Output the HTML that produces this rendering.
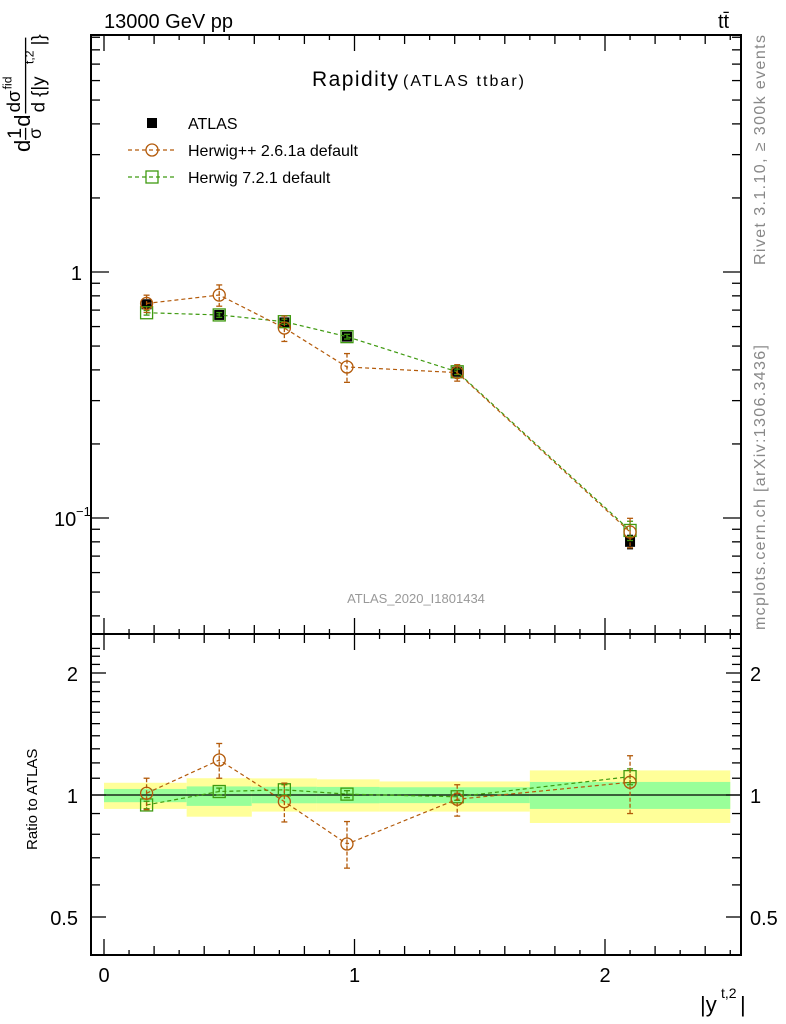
<!DOCTYPE html>
<html><head><meta charset="utf-8"><style>
html,body{margin:0;padding:0;background:#fff;}
svg{display:block;font-family:"Liberation Sans",sans-serif;}
</style></head><body>
<svg id="chart" width="786" height="1024" viewBox="0 0 786 1024" xmlns="http://www.w3.org/2000/svg">
<defs>
<clipPath id="cm"><rect x="91" y="35" width="650" height="599"/></clipPath>
<clipPath id="cr"><rect x="91" y="634" width="650" height="321"/></clipPath>
</defs>
<g id="bands" clip-path="url(#cr)"></g>
<g id="rlines" clip-path="url(#cr)"></g>
<g id="mlines" clip-path="url(#cm)"></g>
<g id="axes"></g>
<text x="104" y="28" font-size="20">13000 GeV pp</text>
<text x="718" y="28" font-size="20">tt̄</text>
<text x="398" y="86" font-size="21" text-anchor="end" textLength="86">Rapidity</text>
<text x="403" y="86" font-size="16" textLength="121">(ATLAS ttbar)</text>
<text x="416" y="603" font-size="13" fill="#999" text-anchor="middle">ATLAS_2020_I1801434</text>
<g>
<rect x="147" y="118" width="10" height="10" fill="#000"/>
<text x="188" y="129" font-size="16">ATLAS</text>
<line x1="128" y1="150" x2="176" y2="150" stroke="#b35a0a" stroke-dasharray="4,3" stroke-width="1.2"/>
<circle cx="152" cy="150" r="6" fill="none" stroke="#b35a0a" stroke-width="1.3"/>
<text x="188" y="156" font-size="16">Herwig++ 2.6.1a default</text>
<line x1="128" y1="177" x2="176" y2="177" stroke="#3f9a10" stroke-dasharray="4,3" stroke-width="1.2"/>
<rect x="146" y="171" width="12" height="12" fill="none" stroke="#3f9a10" stroke-width="1.3"/>
<text x="188" y="183" font-size="16">Herwig 7.2.1 default</text>
</g>
<text transform="translate(765,265) rotate(-90)" font-size="16" fill="#888" textLength="230">Rivet 3.1.10, ≥ 300k events</text>
<text transform="translate(765,630) rotate(-90)" font-size="16" fill="#888" textLength="285">mcplots.cern.ch [arXiv:1306.3436]</text>
<text transform="translate(37,850) rotate(-90)" font-size="15">Ratio to ATLAS</text>
<g transform="translate(30,152) rotate(-90) scale(1.1)">
<text x="0" y="0" font-size="20">d</text>
<text x="12" y="-8" font-size="18">1</text><line x1="11" y1="-4" x2="22" y2="-4" stroke="#000" stroke-width="1.2"/><text x="12" y="10" font-size="16">σ</text>
<text x="23" y="0" font-size="20">d</text>
<text x="36" y="-9" font-size="17">dσ</text><text x="57" y="-17" font-size="11">fid</text>
<line x1="35" y1="-4" x2="104" y2="-4" stroke="#000" stroke-width="1.2"/>
<text x="36" y="13" font-size="17">d {|y</text><text x="80" y="3" font-size="11">t,2</text><text x="97" y="13" font-size="17">|}</text>
</g>
<text x="700" y="1012" font-size="22">|y</text>
<text x="721" y="998" font-size="14">t,2</text>
<text x="740" y="1012" font-size="22">|</text>
</svg>
<script>
const binLo = [0, 0.33, 0.59, 0.85, 1.1, 1.7];
const binHi = [0.33, 0.59, 0.85, 1.1, 1.7, 2.5];
const binCenter = [0.17, 0.46, 0.72, 0.97, 1.41, 2.1];
const atlasVals = [0.739, 0.669, 0.624, 0.546, 0.393, 0.080];
const atlasErr = [0.03, 0.02, 0.02, 0.015, 0.015, 0.005];
const hppVals = [0.745, 0.806, 0.592, 0.411, 0.390, 0.0877];
const hppErr = [0.06, 0.08, 0.07, 0.055, 0.03, 0.012];
const h7Vals = [0.683, 0.669, 0.628, 0.546, 0.393, 0.089];
const h7Err = [0.015, 0.015, 0.015, 0.012, 0.01, 0.008];
const bandTotUp = [1.072, 1.10, 1.099, 1.093, 1.08, 1.15];
const bandTotDn = [0.924, 0.884, 0.91, 0.91, 0.91, 0.853];
const bandStatUp = [1.035, 1.05, 1.048, 1.047, 1.045, 1.077];
const bandStatDn = [0.96, 0.94, 0.954, 0.954, 0.955, 0.924];
const hppRatio = [1.01, 1.22, 0.963, 0.757, 0.976, 1.075];
const hppRatioUp = [1.10, 1.34, 1.07, 0.86, 1.06, 1.25];
const hppRatioDn = [0.92, 1.10, 0.858, 0.66, 0.887, 0.90];
const h7Ratio = [0.945, 1.02, 1.03, 1.005, 0.99, 1.11];
const h7RatioErr = [0.02, 0.02, 0.03, 0.02, 0.02, 0.05];
const xTickLabels = ["0", "1", "2"];
const rTickVals = [0.5, 1, 2];
const rTickLabels = ["0.5", "1", "2"];

const NS = "http://www.w3.org/2000/svg";
const xs = v => 104 + v * 250.5;
const ym = v => 272 - 246 * Math.log10(v);
const yr = v => 795 - 122 * Math.log2(v);
function mk(parent, tag, attrs) {
  const e = document.createElementNS(NS, tag);
  for (const k in attrs) e.setAttribute(k, attrs[k]);
  document.getElementById(parent).appendChild(e);
  return e;
}
const BR = "#b35a0a", GR = "#3f9a10";

for (let i = 0; i < binLo.length; i++) {
  let b = mk('bands', 'rect', {x: xs(binLo[i]), y: yr(bandTotUp[i]), width: xs(binHi[i]) - xs(binLo[i]), height: yr(bandTotDn[i]) - yr(bandTotUp[i]), fill: '#ffff99'});
  
  
  let g = mk('bands', 'rect', {x: xs(binLo[i]), y: yr(bandStatUp[i]), width: xs(binHi[i]) - xs(binLo[i]), height: yr(bandStatDn[i]) - yr(bandStatUp[i]), fill: '#99ff99'});
  
  
}
let one = mk('bands', 'line', {x1: 91, x2: 741, y1: yr(1), y2: yr(1), stroke: '#000', 'stroke-width': 1.3});



function series(parent, vals, up, dn, yf, color, shape, name, withLine) {
  if (withLine) {
    const pts = binCenter.map((c, i) => xs(c) + ',' + yf(vals[i])).join(' ');
    let l = mk(parent, 'polyline', {points: pts, fill: 'none', stroke: color, 'stroke-width': 1.2, 'stroke-dasharray': '4,3'});
    
    
  }
  for (let i = 0; i < vals.length; i++) {
    const x = xs(binCenter[i]), y = yf(vals[i]);
    const y1 = yf(up[i]), y2 = yf(dn[i]);
    let e = mk(parent, 'line', {x1: x, x2: x, y1: y1, y2: y2, stroke: color, 'stroke-width': 1.3, 'stroke-dasharray': shape === 'b' ? 'none' : '4,2'});
    
    
    mk(parent, 'line', {x1: x - 3, x2: x + 3, y1: y1, y2: y1, stroke: color, 'stroke-width': 1.3});
    mk(parent, 'line', {x1: x - 3, x2: x + 3, y1: y2, y2: y2, stroke: color, 'stroke-width': 1.3});
    let m;
    if (shape === 'c') m = mk(parent, 'circle', {cx: x, cy: y, r: 6, fill: 'none', stroke: color, 'stroke-width': 1.3});
    else if (shape === 's') m = mk(parent, 'rect', {x: x - 6, y: y - 6, width: 12, height: 12, fill: 'none', stroke: color, 'stroke-width': 1.3});
    else m = mk(parent, 'rect', {x: x - 5, y: y - 5, width: 10, height: 10, fill: '#000'});
    
    
  }
}
series('mlines', atlasVals, atlasVals.map((v, i) => v + atlasErr[i]), atlasVals.map((v, i) => v - atlasErr[i]), ym, '#000', 'b', 'atlas', false);
series('mlines', h7Vals, h7Vals.map((v, i) => v + h7Err[i]), h7Vals.map((v, i) => v - h7Err[i]), ym, GR, 's', 'herwig7', true);
series('mlines', hppVals, hppVals.map((v, i) => v + hppErr[i]), hppVals.map((v, i) => v - hppErr[i]), ym, BR, 'c', 'herwigpp', true);
series('rlines', h7Ratio, h7Ratio.map((v, i) => v + h7RatioErr[i]), h7Ratio.map((v, i) => v - h7RatioErr[i]), yr, GR, 's', 'herwig7-ratio', true);
series('rlines', hppRatio, hppRatioUp, hppRatioDn, yr, BR, 'c', 'herwigpp-ratio', true);

function ln(x1, y1, x2, y2, w) { mk('axes', 'line', {x1, y1, x2, y2, stroke: '#000', 'stroke-width': w || 1.3}); }
let fr1 = mk('axes', 'rect', {x: 91, y: 35, width: 650, height: 599, fill: 'none', stroke: '#000', 'stroke-width': 2});


let fr2 = mk('axes', 'rect', {x: 91, y: 634, width: 650, height: 321, fill: 'none', stroke: '#000', 'stroke-width': 2});


for (let k = 0; k <= 25; k++) {
  const v = k / 10, x = xs(v);
  if (x > 740) break;
  const len = (k % 10 === 0) ? 16 : (k % 2 === 0 ? 9 : 5);
  ln(x, 35, x, 35 + len); ln(x, 634, x, 634 - len);
  ln(x, 634, x, 634 + len); ln(x, 955, x, 955 - len);
}
xTickLabels.forEach((t, i) => {
  let e = mk('axes', 'text', {x: xs(i), y: 982, 'font-size': 20, 'text-anchor': 'middle'});
  e.textContent = t;
  
  
});
[0.04,0.05,0.06,0.07,0.08,0.09,0.1,0.2,0.3,0.4,0.5,0.6,0.7,0.8,0.9,1,2,3,4,5,6,7,8,9].forEach(v => {
  const y = ym(v);
  if (y < 35 || y > 634) return;
  const len = (v === 0.1 || v === 1) ? 18 : 9;
  ln(91, y, 91 + len, y); ln(741, y, 741 - len, y);
});
let t1 = mk('axes', 'text', {x: 82, y: ym(1) + 8, 'font-size': 20, 'text-anchor': 'end'});
t1.textContent = '1';


let t2 = mk('axes', 'text', {x: 54, y: ym(0.1) + 8, 'font-size': 20});
t2.textContent = '10';


let t3 = mk('axes', 'text', {x: 76, y: ym(0.1) - 2, 'font-size': 13});
t3.textContent = '−1';
for (let v = 0.5; v <= 2.4; v += 0.1) {
  const vv = Math.round(v * 10) / 10, y = yr(vv);
  if (y < 634 || y > 955) continue;
  const len = (vv === 0.5 || vv === 1 || vv === 2) ? 15 : 9;
  ln(91, y, 91 + len, y); ln(741, y, 741 - len, y);
}
rTickVals.forEach((v, i) => {
  let a = mk('axes', 'text', {x: 78, y: yr(v) + 8, 'font-size': 20, 'text-anchor': 'end'});
  a.textContent = rTickLabels[i];
  
  
  let b = mk('axes', 'text', {x: 750, y: yr(v) + 8, 'font-size': 20});
  b.textContent = rTickLabels[i];
  
  
});
</script>
</body></html>
